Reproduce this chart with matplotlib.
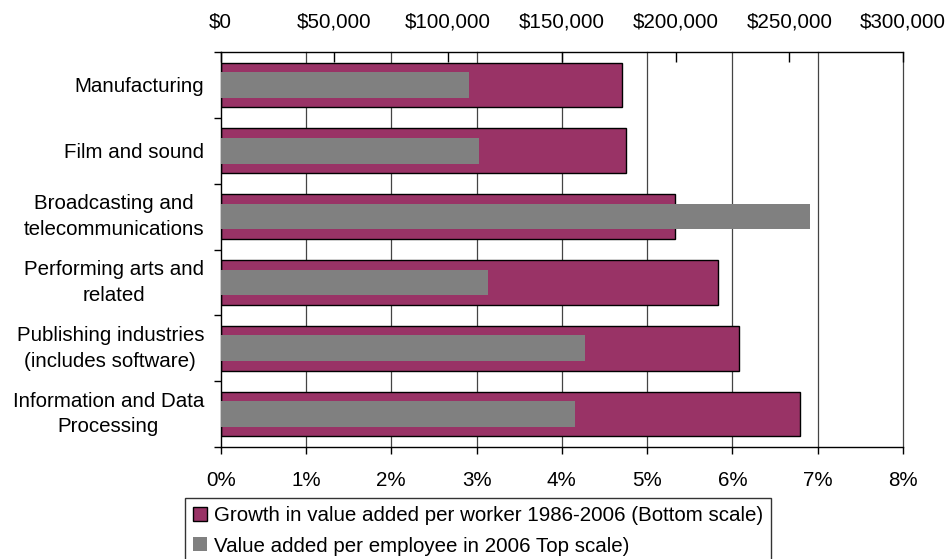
import matplotlib
matplotlib.use("Agg")
import matplotlib.pyplot as plt
import numpy as np
from matplotlib.patches import Patch
from matplotlib.ticker import FuncFormatter

plt.rcParams["font.family"] = ["Liberation Sans", "DejaVu Sans"]
plt.rcParams["font.size"] = 14.8

categories = [
    "Manufacturing",
    "Film and sound",
    "Broadcasting and\ntelecommunications",
    "Performing arts and\nrelated",
    "Publishing industries\n(includes software)",
    "Information and Data\nProcessing",
]
growth = [0.0471, 0.04755, 0.0533, 0.0583, 0.0608, 0.06795]  # bottom scale
value_added = [109100, 113500, 258900, 117400, 160100, 155700]  # top scale

maroon = "#993366"
grey = "#808080"

fig = plt.figure(figsize=(9.49, 5.59), dpi=100)
ax = fig.add_axes([220.7 / 949, 1 - 447 / 559, (903 - 220.7) / 949, (447 - 52) / 559])

y = np.arange(len(categories))

# gridlines behind the bars
for g in np.arange(0.01, 0.081, 0.01):
    ax.axvline(g, color="#444444", lw=0.9, zorder=0, clip_on=False)

ax.barh(y, growth, height=0.68, color=maroon, edgecolor="black", linewidth=1, zorder=2)
ax.set_xlim(0, 0.08)
ax.set_ylim(len(categories) - 0.5, -0.5)
ax.xaxis.set_major_formatter(FuncFormatter(lambda v, p: f"{v * 100:.0f}%"))
ax.set_xticks(np.arange(0, 0.081, 0.01))
ax.tick_params(axis="x", direction="out", length=5, width=1, pad=12, colors="black")

ax.set_yticks(y)
ax.set_yticklabels(categories)
for t in ax.get_yticklabels():
    t.set_multialignment("center")
    t.set_linespacing(1.45)
    if "\n" in t.get_text():
        t.set_verticalalignment("center")
ax.set_yticks(np.arange(-0.5, len(categories)), minor=True)
ax.tick_params(axis="y", which="major", length=0, pad=12)
ax.tick_params(axis="y", which="minor", direction="out", length=5, width=1)

for s in ["top", "right"]:
    ax.spines[s].set_visible(False)
ax.spines["left"].set_linewidth(1)
ax.spines["bottom"].set_linewidth(1)

# top scale for value added per employee
ax2 = ax.twiny()
ax2.barh(y, value_added, height=0.39, color=grey, linewidth=0, zorder=3)
ax2.set_xlim(0, 300000)
ax2.set_ylim(len(categories) - 0.5, -0.5)
ax2.set_xticks(np.arange(0, 300001, 50000))
ax2.xaxis.set_major_formatter(FuncFormatter(lambda v, p: f"${v:,.0f}"))
ax2.tick_params(axis="x", direction="in", length=7, width=1, pad=15)
for s in ["bottom", "left", "right"]:
    ax2.spines[s].set_visible(False)
ax2.spines["top"].set_linewidth(1)

handles = [
    Patch(facecolor=maroon, edgecolor="black", linewidth=1),
    Patch(facecolor=grey, edgecolor="none"),
]
labels = [
    "Growth in value added per worker 1986-2006 (Bottom scale)",
    "Value added per employee in 2006 Top scale)",
]
leg = fig.legend(handles, labels, loc="upper left",
                 bbox_to_anchor=(185 / 949, 1 - 498 / 559),
                 frameon=True, fancybox=False, shadow=False,
                 handlelength=0.65, handleheight=0.65, handletextpad=0.35,
                 borderpad=0.4, labelspacing=0.55, borderaxespad=0)
leg.get_frame().set_edgecolor("black")
leg.get_frame().set_linewidth(1)

fig.savefig("out.png", dpi=100)
